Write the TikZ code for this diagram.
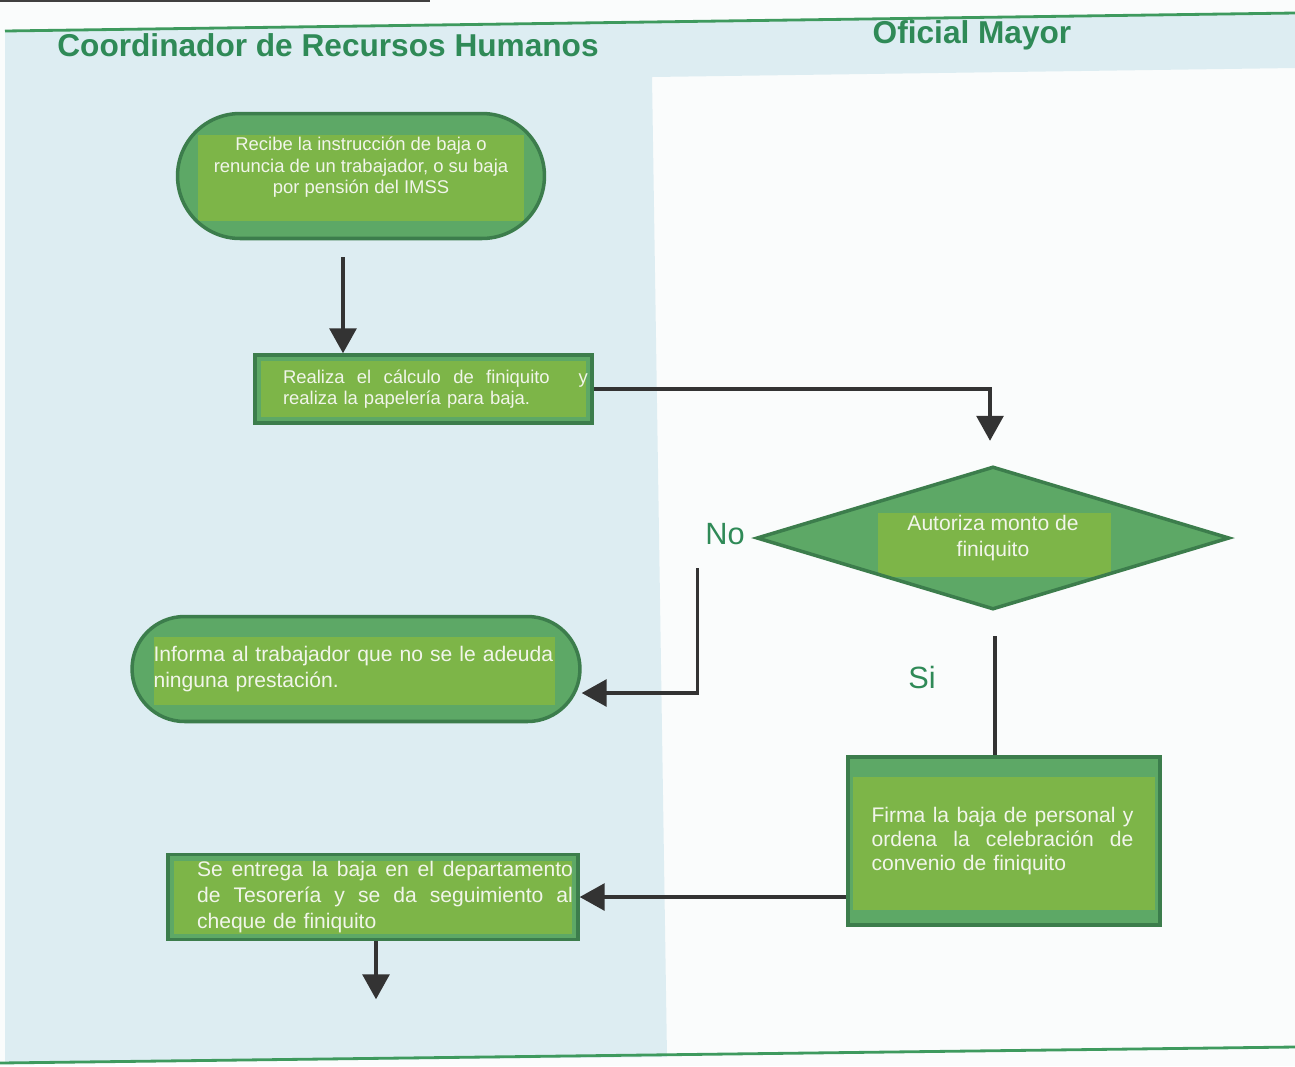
\documentclass[tikz,border=0pt]{standalone}
\usepackage{fontspec}
\setmainfont{Liberation Sans}
\usetikzlibrary{shapes.geometric,arrows.meta,calc}
\definecolor{pagewhite}{HTML}{FAFCFC}
\definecolor{laneblue}{HTML}{DDEDF2}
\definecolor{titlegreen}{HTML}{2F8A57}
\definecolor{rulegreen}{HTML}{3E9A5E}
\definecolor{outerG}{HTML}{5DA866}
\definecolor{innerG}{HTML}{7DB548}
\definecolor{borderG}{HTML}{3C7D4C}
\definecolor{arrowgray}{HTML}{333333}
\definecolor{boxtext}{HTML}{F1F5EA}
\newcommand{\jline}[2]{\leavevmode\hbox to #1{#2}}
\begin{document}
\begin{tikzpicture}[x=0.02cm,y=-0.02cm,
  lanetitle/.style={font=\bfseries\fontsize{18}{21}\selectfont, text=titlegreen, inner sep=0pt},
  lbl/.style={font=\fontsize{17.5}{20}\selectfont, text=titlegreen, inner sep=0pt},
  nodebase/.style={draw=borderG, line width=2pt, fill=outerG, text=boxtext, inner sep=0pt},
  capsule/.style={nodebase, rectangle, rounded corners=#1},
  procbox/.style={nodebase, rectangle},
  decis/.style={nodebase, diamond},
  innerpanel/.style n args={4}{path picture={\fill[innerG, sharp corners] ($(path picture bounding box.north west)+(#1,-#2)$) rectangle ($(path picture bounding box.south east)+(-#3,#4)$);}},
  flowarrow/.style={draw=arrowgray, line width=1.8pt, -{Triangle[width=0.54cm,length=0.5cm]}},
  conn/.style={draw=arrowgray, line width=1.8pt},
]
\useasboundingbox (0,0) rectangle (1295,1066);
\fill[pagewhite] (0,0) rectangle (1295,1066);
\fill[laneblue] (5,31) -- (1295,13) -- (1295,68) -- (652,77) -- (667,1057) -- (5,1063) -- cycle;
\draw[rulegreen, line width=1.6pt] (5,31) -- (1295,13);
\draw[rulegreen, line width=1.6pt] (0,1063) -- (1295,1047);
\draw[black!75, line width=1.5pt] (0,1) -- (430,1);

\node[lanetitle] (hdrA) at (328,45) {Coordinador de Recursos Humanos};
\node[lanetitle] (hdrB) at (972,35) {Oficial Mayor};

\node[capsule=1.25cm, minimum width=7.34cm, minimum height=2.5cm,
  innerpanel={0.4cm}{0.42cm}{0.4cm}{0.36cm}, align=center,
  font=\fontsize{10.5}{12.2}\selectfont] (t1) at (361,176)
  {Recibe la instrucción de baja o\\renuncia de un trabajador, o su baja\\por pensión del IMSS\\};

\node[procbox, minimum width=6.74cm, minimum height=1.36cm,
  innerpanel={0.12cm}{0.12cm}{0.12cm}{0.12cm}, text width=6.74cm, align=left,
  font=\fontsize{10.5}{12.2}\selectfont] (p1) at (423.5,389)
  {\hspace*{0.56cm}\jline{6.1cm}{Realiza\hfill el\hfill cálculo\hfill de\hfill finiquito\hspace{0.9em}\hfill y}\\\hspace*{0.56cm}realiza la papelería para baja.};

\node[decis, aspect=3.3, minimum width=9.46cm, minimum height=2.86cm,
  path picture={\fill[innerG] ($(path picture bounding box.center)+(-2.3cm,0.5cm)$) rectangle ($(path picture bounding box.center)+(2.36cm,-0.78cm)$);},
  align=center, font=\fontsize{12}{14.5}\selectfont] (d) at (993,538)
  {Autoriza monto de\\finiquito};

\node[capsule=1.05cm, minimum width=8.96cm, minimum height=2.1cm,
  innerpanel={0.44cm}{0.4cm}{0.5cm}{0.34cm}, text width=8.1cm, align=left,
  font=\fontsize{12}{14.8}\selectfont] (t2) at (356,669)
  {Informa al trabajador que no se le adeuda\\ninguna prestación.\\[1pt]};

\node[procbox, minimum width=6.24cm, minimum height=3.36cm,
  innerpanel={0.1cm}{0.4cm}{0.1cm}{0.3cm}, text width=5.3cm, align=left,
  font=\fontsize{12}{13.8}\selectfont] (f) at (1004,841)
  {\jline{5.24cm}{Firma\hfill la\hfill baja\hfill de\hfill personal\hfill y}\\\jline{5.24cm}{ordena\hfill la\hfill celebración\hfill de}\\convenio de finiquito};

\node[procbox, minimum width=8.2cm, minimum height=1.7cm,
  innerpanel={0.12cm}{0.12cm}{0.12cm}{0.12cm}, text width=8.2cm, align=left,
  font=\fontsize{12}{14.8}\selectfont] (s) at (373,897)
  {\hspace*{0.58cm}\jline{7.52cm}{Se\hfill entrega\hfill la\hfill baja\hfill en\hfill el\hfill departamento}\\\hspace*{0.58cm}\jline{7.52cm}{de\hfill Tesorería\hfill y\hfill se\hfill da\hfill seguimiento\hfill al}\\\hspace*{0.58cm}cheque de finiquito};

\node[lbl] (no) at (725,534) {No};
\node[lbl] (si) at (922,677) {Si};

\coordinate (a1) at ($(t1.south)+(-18,17)$);
\draw[flowarrow] (a1) -- (a1 |- p1.north);

\coordinate (c2) at ($(d.north)+(-3,-24)$);
\draw[flowarrow] (p1.east) -| (c2);

\coordinate (no1) at ($(d.west)+(-57,30)$);
\coordinate (no2) at ($(t2.east)+(0,24)$);
\draw[flowarrow] (no1) |- (no2);

\coordinate (si1) at ($(d.south)+(2,25)$);
\draw[conn] (si1) -- (si1 |- f.north);

\draw[flowarrow] (f.west |- s.east) -- (s.east);

\coordinate (endp) at ($(s.south)+(3,58)$);
\draw[flowarrow] (s.south -| endp) -- (endp);
\end{tikzpicture}
\end{document}
